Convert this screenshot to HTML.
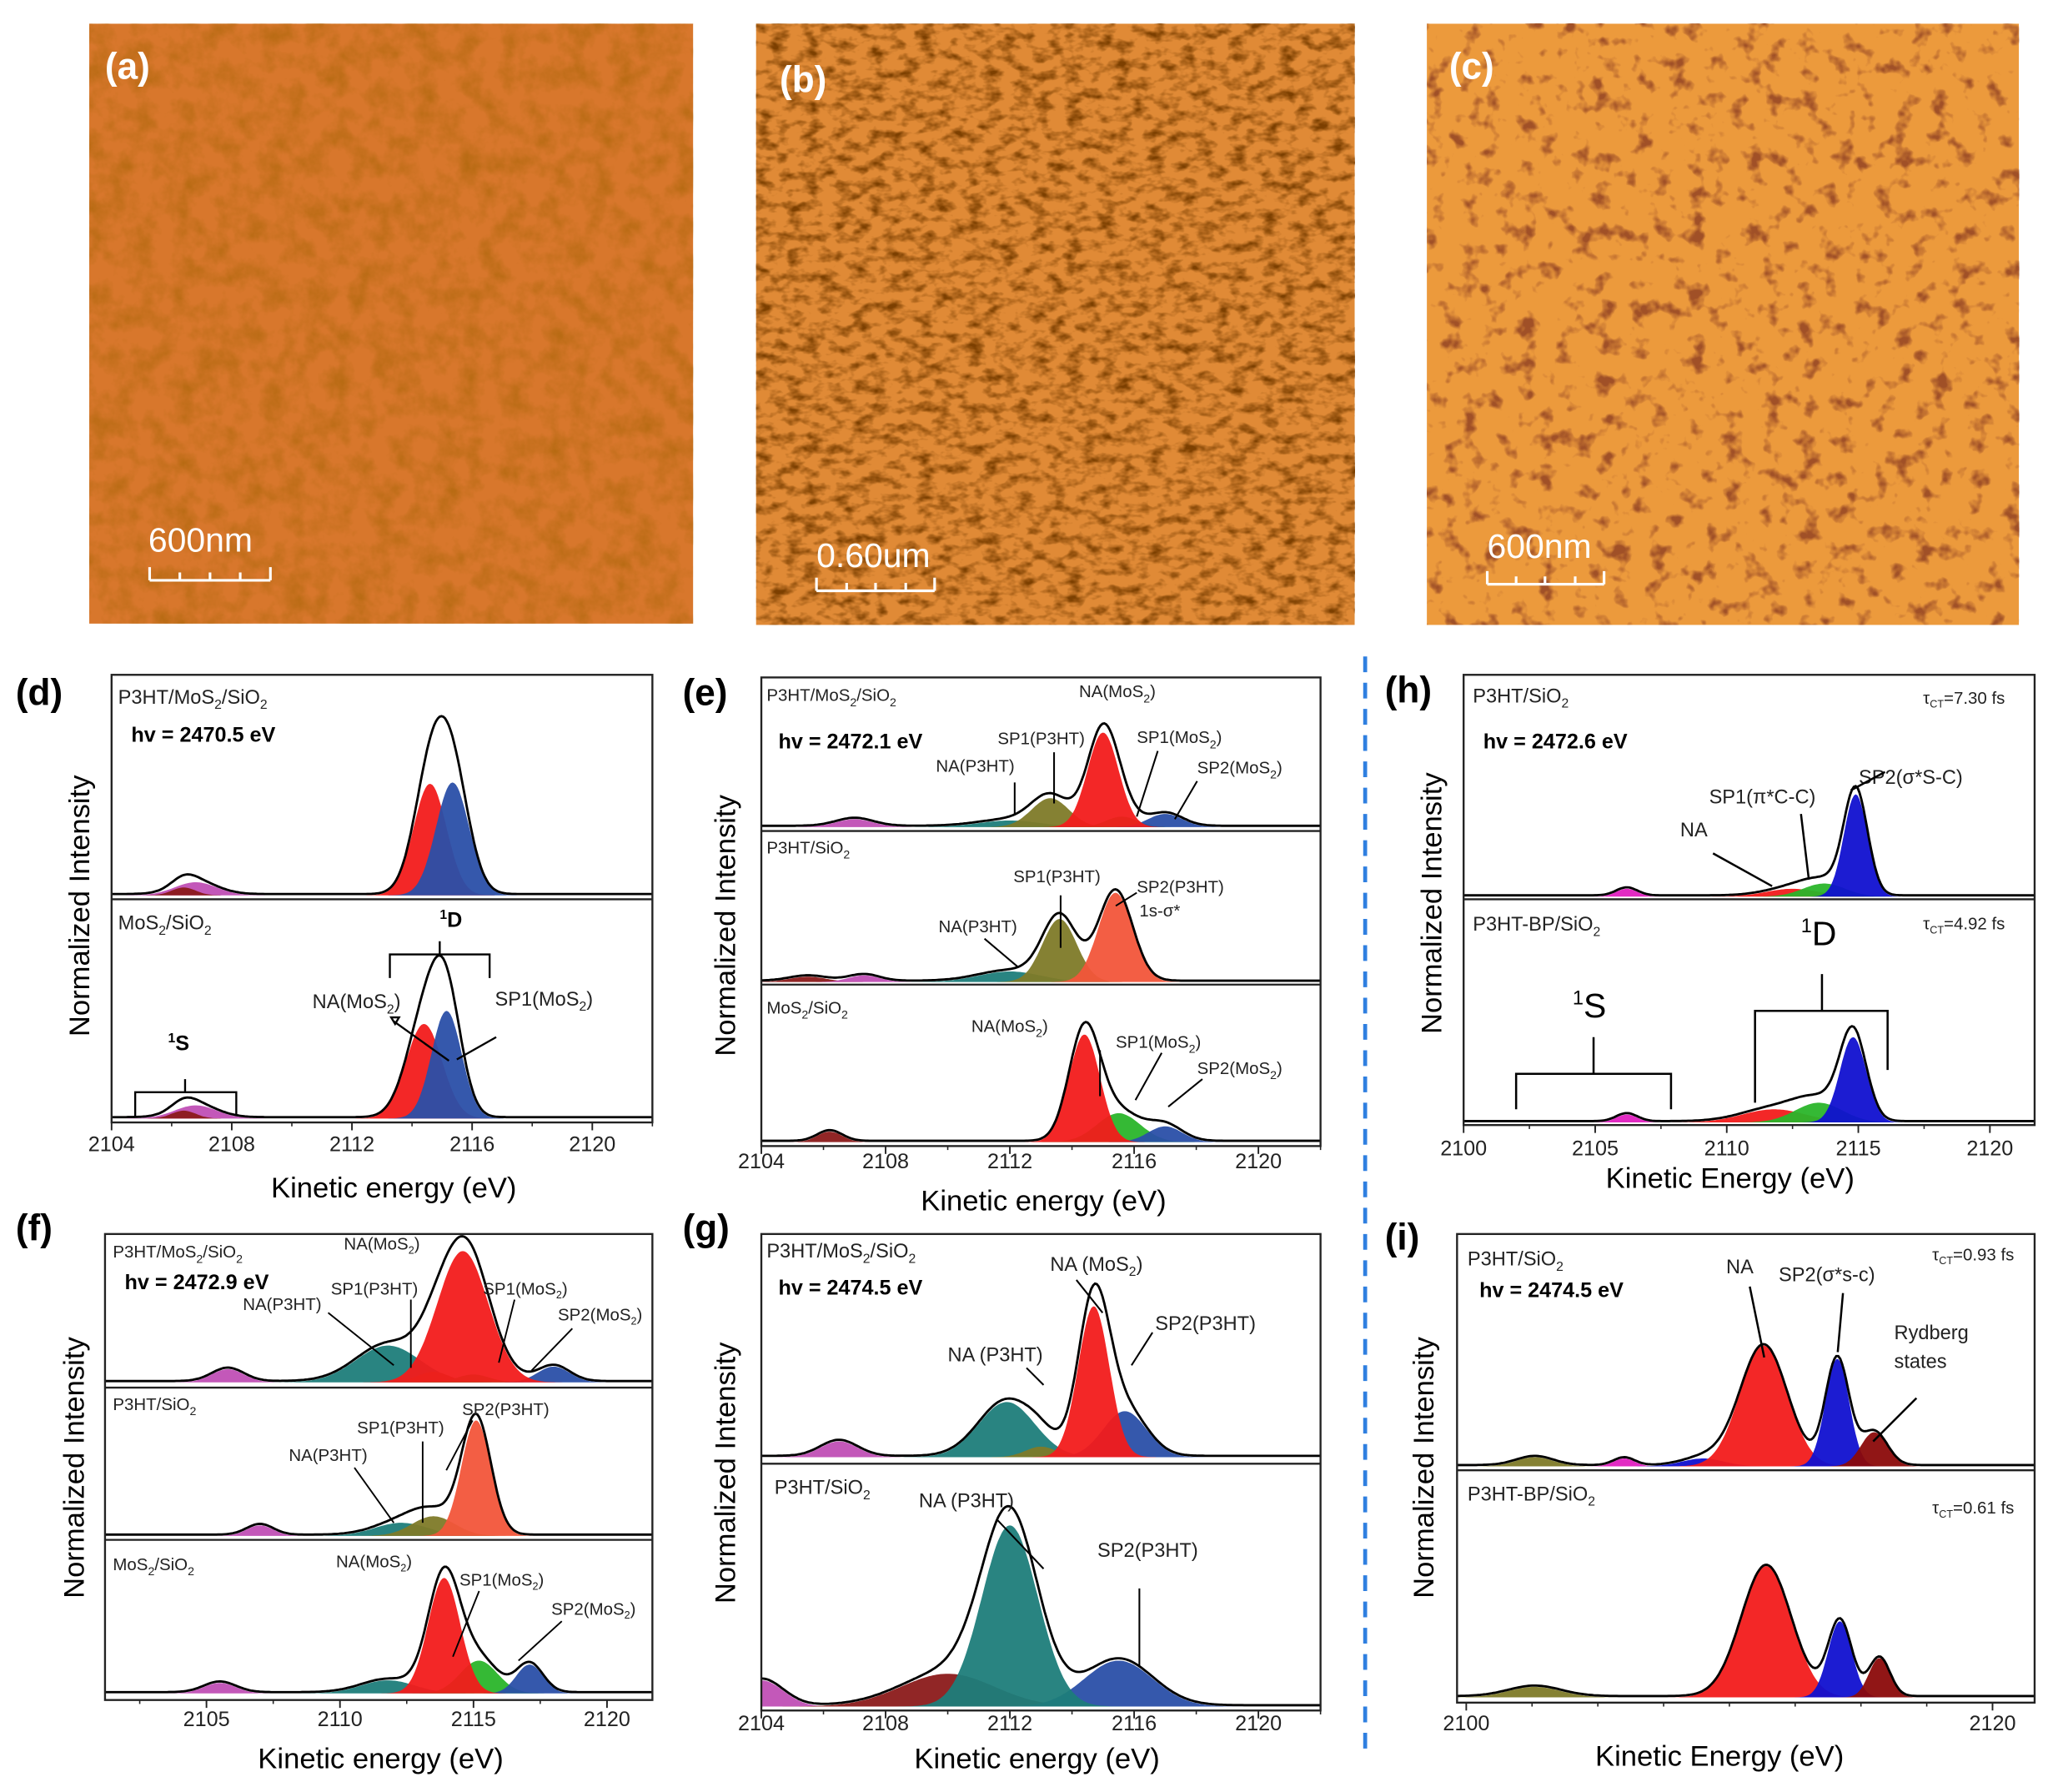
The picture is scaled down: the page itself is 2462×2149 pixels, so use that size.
<!DOCTYPE html>
<html><head><meta charset="utf-8">
<style>
html,body{margin:0;padding:0;background:#fff;}
svg{display:block;}
text{font-family:"Liberation Sans",Arial,sans-serif;}
.pl{font-size:28px;font-weight:bold;}
.tk{font-size:16px;fill:#222;}
.xl{font-size:22px;}
.yl{font-size:22px;}
.sm{font-size:13px;fill:#222;}
.md{font-size:15px;fill:#222;}
.hv{font-size:16px;font-weight:bold;}
</style></head>
<body>
<svg id="s" width="2462" height="2149" viewBox="0 0 1564 1365" xmlns="http://www.w3.org/2000/svg">
<defs>
<filter id="ta" x="0" y="0" width="100%" height="100%">
<feTurbulence type="fractalNoise" baseFrequency="0.06" numOctaves="4" seed="3"/>
<feColorMatrix type="matrix" values="0 0 0 0 0.35  0 0 0 0 0.12  0 0 0 0 0  1.1 0 0 0 -0.42"/>
</filter>
<filter id="tb" x="0" y="0" width="100%" height="100%">
<feTurbulence type="fractalNoise" baseFrequency="0.08 0.13" numOctaves="3" seed="8"/>
<feColorMatrix type="matrix" values="0 0 0 0 0.2  0 0 0 0 0.05  0 0 0 0 0  2.6 0 0 0 -1.15"/>
</filter>
<filter id="tc" x="0" y="0" width="100%" height="100%">
<feTurbulence type="fractalNoise" baseFrequency="0.07" numOctaves="3" seed="15"/>
<feColorMatrix type="matrix" values="0 0 0 0 0.35  0 0 0 0 0.08  0 0 0 0 0.02  4.5 0 0 0 -2.5"/>
</filter>
</defs>
<!-- AFM images -->
<rect x="68" y="18" width="460" height="457" fill="#d8772c"/>
<rect x="68" y="18" width="460" height="457" filter="url(#ta)"/>
<rect x="576" y="18" width="456" height="458" fill="#e08a36"/>
<rect x="576" y="18" width="456" height="458" filter="url(#tb)"/>
<rect x="1087" y="18" width="451" height="458" fill="#ec9a3c"/>
<rect x="1087" y="18" width="451" height="458" filter="url(#tc)"/>
<g font-family="Liberation Serif" font-weight="bold" font-size="28" fill="#fff">
<text x="80" y="60">(a)</text><text x="594" y="70">(b)</text><text x="1104" y="60">(c)</text></g>
<g font-family="Liberation Serif" font-size="26" fill="#fff">
<text x="113" y="420">600nm</text><text x="622" y="432">0.60um</text><text x="1133" y="425">600nm</text></g>
<g stroke="#fff" stroke-width="2" fill="none">
<path d="M114 442H206M114 432V442M137 436V442M160 436V442M183 436V442M206 432V442"/>
<path d="M622 450H712M622 440V450M645 444V450M667 444V450M690 444V450M712 440V450"/>
<path d="M1133 445H1222M1133 435V445M1155 439V445M1177 439V445M1200 439V445M1222 435V445"/>
</g>
<!-- dashed divider -->
<line x1="1040" y1="500" x2="1040" y2="1337" stroke="#2f7fe0" stroke-width="3" stroke-dasharray="12,8"/>
<g id="plots"></g>
<!-- panel letters -->
<g class="pl"><text x="12" y="537">(d)</text><text x="520" y="537">(e)</text><text x="1055" y="535">(h)</text>
<text x="12" y="945">(f)</text><text x="520" y="945">(g)</text><text x="1055" y="952">(i)</text></g>
<!-- axis labels -->
<g class="xl">
<text x="300" y="912" text-anchor="middle">Kinetic energy (eV)</text>
<text x="795" y="922" text-anchor="middle">Kinetic energy (eV)</text>
<text x="1318" y="905" text-anchor="middle">Kinetic Energy (eV)</text>
<text x="290" y="1347" text-anchor="middle">Kinetic energy (eV)</text>
<text x="790" y="1347" text-anchor="middle">Kinetic energy (eV)</text>
<text x="1310" y="1345" text-anchor="middle">Kinetic Energy (eV)</text>
</g>
<g class="yl">
<text transform="translate(68,690) rotate(-90)" text-anchor="middle">Normalized Intensity</text>
<text transform="translate(560,705) rotate(-90)" text-anchor="middle">Normalized Intensity</text>
<text transform="translate(1098,688) rotate(-90)" text-anchor="middle">Normalized Intensity</text>
<text transform="translate(64,1118) rotate(-90)" text-anchor="middle">Normalized Intensity</text>
<text transform="translate(560,1122) rotate(-90)" text-anchor="middle">Normalized Intensity</text>
<text transform="translate(1092,1118) rotate(-90)" text-anchor="middle">Normalized Intensity</text>
</g>
<!-- d annotations -->
<text class="md" x="90" y="536">P3HT/MoS<tspan font-size="10" dy="4">2</tspan><tspan dy="-4">/SiO</tspan><tspan font-size="10" dy="4">2</tspan></text>
<text class="hv" x="100" y="565">hv = 2470.5 eV</text>
<text class="md" x="90" y="708">MoS<tspan font-size="10" dy="4">2</tspan><tspan dy="-4">/SiO</tspan><tspan font-size="10" dy="4">2</tspan></text>
<text x="335" y="706" font-size="16" font-weight="bold"><tspan font-size="10" dy="-6">1</tspan><tspan dy="6">D</tspan></text>
<text x="128" y="800" font-size="16" font-weight="bold"><tspan font-size="10" dy="-6">1</tspan><tspan dy="6">S</tspan></text>
<text class="md" x="238" y="768">NA(MoS<tspan font-size="10" dy="4">2</tspan><tspan dy="-4">)</tspan></text>
<text class="md" x="377" y="766">SP1(MoS<tspan font-size="10" dy="4">2</tspan><tspan dy="-4">)</tspan></text>
<g fill="none" stroke="#000" stroke-width="1.5">
<path d="M297 745V727H335V717M335 727H373V745"/>
<path d="M103 850V832H141V822M141 832H180V850"/>
<path d="M342 808L300 778M298 775l6 0l-3 5z"/><path d="M348 807L378 790"/>
</g>
<!-- e annotations -->
<text class="sm" x="584" y="534">P3HT/MoS<tspan font-size="9" dy="4">2</tspan><tspan dy="-4">/SiO</tspan><tspan font-size="9" dy="4">2</tspan></text>
<text class="hv" x="593" y="570">hv = 2472.1 eV</text>
<text class="sm" x="822" y="531">NA(MoS<tspan font-size="9" dy="4">2</tspan><tspan dy="-4">)</tspan></text>
<text class="sm" x="760" y="567">SP1(P3HT)</text>
<text class="sm" x="713" y="588">NA(P3HT)</text>
<text class="sm" x="866" y="566">SP1(MoS<tspan font-size="9" dy="4">2</tspan><tspan dy="-4">)</tspan></text>
<text class="sm" x="912" y="589">SP2(MoS<tspan font-size="9" dy="4">2</tspan><tspan dy="-4">)</tspan></text>
<text class="sm" x="584" y="650">P3HT/SiO<tspan font-size="9" dy="4">2</tspan></text>
<text class="sm" x="772" y="672">SP1(P3HT)</text>
<text class="sm" x="715" y="710">NA(P3HT)</text>
<text class="sm" x="866" y="680">SP2(P3HT)</text>
<text class="sm" x="868" y="698" font-size="10">1s-σ*</text>
<text class="sm" x="584" y="772">MoS<tspan font-size="9" dy="4">2</tspan><tspan dy="-4">/SiO</tspan><tspan font-size="9" dy="4">2</tspan></text>
<text class="sm" x="740" y="786">NA(MoS<tspan font-size="9" dy="4">2</tspan><tspan dy="-4">)</tspan></text>
<text class="sm" x="850" y="798">SP1(MoS<tspan font-size="9" dy="4">2</tspan><tspan dy="-4">)</tspan></text>
<text class="sm" x="912" y="818">SP2(MoS<tspan font-size="9" dy="4">2</tspan><tspan dy="-4">)</tspan></text>
<g fill="none" stroke="#000" stroke-width="1.3">
<path d="M773 620V596"/><path d="M803 612V573"/><path d="M866 622L882 572"/><path d="M895 624L912 595"/>
<path d="M808 722V682"/><path d="M776 737L750 715"/><path d="M850 690L866 680"/>
<path d="M838 835V800"/><path d="M865 838L885 802"/><path d="M890 843L916 822"/>
</g>
<!-- h annotations -->
<text class="md" x="1122" y="535">P3HT/SiO<tspan font-size="10" dy="4">2</tspan></text>
<text class="hv" x="1130" y="570">hv = 2472.6 eV</text>
<text class="sm" x="1465" y="536">τ<tspan font-size="8" dy="3">CT</tspan><tspan dy="-3">=7.30 fs</tspan></text>
<text class="md" x="1280" y="637">NA</text>
<text class="md" x="1302" y="612">SP1(π*C-C)</text>
<text class="md" x="1416" y="597">SP2(σ*S-C)</text>
<text class="md" x="1122" y="709">P3HT-BP/SiO<tspan font-size="10" dy="4">2</tspan></text>
<text class="sm" x="1465" y="708">τ<tspan font-size="8" dy="3">CT</tspan><tspan dy="-3">=4.92 fs</tspan></text>
<text x="1372" y="720" font-size="26"><tspan font-size="15" dy="-10">1</tspan><tspan dy="10">D</tspan></text>
<text x="1198" y="775" font-size="26"><tspan font-size="15" dy="-10">1</tspan><tspan dy="10">S</tspan></text>
<g fill="none" stroke="#000" stroke-width="1.6">
<path d="M1155 845V818H1214V790M1214 818H1273V845"/>
<path d="M1337 840V770H1388V742M1388 770H1438V815"/>
<path d="M1350 675L1305 650"/><path d="M1378 670L1372 620"/><path d="M1410 602L1436 588"/>
</g>
<!-- f annotations -->
<text class="sm" x="86" y="958">P3HT/MoS<tspan font-size="9" dy="4">2</tspan><tspan dy="-4">/SiO</tspan><tspan font-size="9" dy="4">2</tspan></text>
<text class="hv" x="95" y="982">hv = 2472.9 eV</text>
<text class="sm" x="262" y="952" font-size="11">NA(MoS<tspan font-size="8" dy="3">2</tspan><tspan dy="-3">)</tspan></text>
<text class="sm" x="252" y="986" font-size="11">SP1(P3HT)</text>
<text class="sm" x="185" y="998" font-size="11">NA(P3HT)</text>
<text class="sm" x="368" y="986" font-size="11">SP1(MoS<tspan font-size="8" dy="3">2</tspan><tspan dy="-3">)</tspan></text>
<text class="sm" x="425" y="1006" font-size="11">SP2(MoS<tspan font-size="8" dy="3">2</tspan><tspan dy="-3">)</tspan></text>
<text class="sm" x="86" y="1074">P3HT/SiO<tspan font-size="9" dy="4">2</tspan></text>
<text class="sm" x="272" y="1092" font-size="11">SP1(P3HT)</text>
<text class="sm" x="220" y="1113" font-size="11">NA(P3HT)</text>
<text class="sm" x="352" y="1078" font-size="11">SP2(P3HT)</text>
<text class="sm" x="86" y="1196">MoS<tspan font-size="9" dy="4">2</tspan><tspan dy="-4">/SiO</tspan><tspan font-size="9" dy="4">2</tspan></text>
<text class="sm" x="256" y="1194" font-size="11">NA(MoS<tspan font-size="8" dy="3">2</tspan><tspan dy="-3">)</tspan></text>
<text class="sm" x="350" y="1208" font-size="11">SP1(MoS<tspan font-size="8" dy="3">2</tspan><tspan dy="-3">)</tspan></text>
<text class="sm" x="420" y="1230" font-size="11">SP2(MoS<tspan font-size="8" dy="3">2</tspan><tspan dy="-3">)</tspan></text>
<g fill="none" stroke="#000" stroke-width="1.2">
<path d="M313 1042V990"/><path d="M300 1040L250 1000"/><path d="M380 1038L392 990"/><path d="M405 1044L436 1012"/>
<path d="M322 1160V1098"/><path d="M300 1160L270 1118"/><path d="M340 1120L360 1082"/>
<path d="M345 1262L365 1212"/><path d="M395 1265L428 1235"/>
</g>
<!-- g annotations -->
<text class="md" x="584" y="958">P3HT/MoS<tspan font-size="10" dy="4">2</tspan><tspan dy="-4">/SiO</tspan><tspan font-size="10" dy="4">2</tspan></text>
<text class="hv" x="593" y="986">hv = 2474.5 eV</text>
<text class="md" x="800" y="968">NA (MoS<tspan font-size="10" dy="4">2</tspan><tspan dy="-4">)</tspan></text>
<text class="md" x="880" y="1013">SP2(P3HT)</text>
<text class="md" x="722" y="1037">NA (P3HT)</text>
<text class="md" x="590" y="1138">P3HT/SiO<tspan font-size="10" dy="4">2</tspan></text>
<text class="md" x="700" y="1148">NA (P3HT)</text>
<text class="md" x="836" y="1186">SP2(P3HT)</text>
<g fill="none" stroke="#000" stroke-width="1.3">
<path d="M840 1000L820 975"/><path d="M862 1040L878 1015"/><path d="M795 1055L782 1042"/>
<path d="M795 1195L760 1158"/><path d="M868 1270V1210"/>
</g>
<!-- i annotations -->
<text class="md" x="1118" y="964">P3HT/SiO<tspan font-size="10" dy="4">2</tspan></text>
<text class="hv" x="1127" y="988">hv = 2474.5 eV</text>
<text class="sm" x="1472" y="960">τ<tspan font-size="8" dy="3">CT</tspan><tspan dy="-3">=0.93 fs</tspan></text>
<text class="md" x="1315" y="970">NA</text>
<text class="md" x="1355" y="976">SP2(σ*s-c)</text>
<text class="md" x="1443" y="1020">Rydberg</text>
<text class="md" x="1443" y="1042">states</text>
<text class="md" x="1118" y="1143">P3HT-BP/SiO<tspan font-size="10" dy="4">2</tspan></text>
<text class="sm" x="1472" y="1153">τ<tspan font-size="8" dy="3">CT</tspan><tspan dy="-3">=0.61 fs</tspan></text>
<g fill="none" stroke="#000" stroke-width="1.6">
<path d="M1344 1034L1333 980"/><path d="M1400 1030L1404 985"/><path d="M1427 1098L1460 1065"/>
</g>
</svg>
<script>
var NS="http://www.w3.org/2000/svg",G=document.getElementById("plots");
function el(t,a){var e=document.createElementNS(NS,t);for(var k in a)e.setAttribute(k,a[k]);G.appendChild(e);return e;}
function tx(x,y,s,c,a){var e=el("text",{x:x,y:y,"class":c,"text-anchor":a||"middle"});e.textContent=s;}
var C={r:"#f21b1b",b:"#2a4fa8",B:"#1010d0",p:"#c04fb5",P:"#e020c0",d:"#8b1a1a",o:"#7e7a28",g:"#2ab52a",t:"#1e7d7a",O:"#f2553a",D:"#8b0a0a"};
function panel(P){
  var sx=function(e){return P.x0+(e-P.e0)*(P.x1-P.x0)/(P.e1-P.e0);};
  P.subs.forEach(function(S){
    var tot=[],N=300;
    for(var i=0;i<=N;i++)tot[i]=0;
    S.pk.forEach(function(q){
      var d="";
      for(var i=0;i<=N;i++){var e=P.e0+(P.e1-P.e0)*i/N,v=q[2]*Math.exp(-0.5*Math.pow((e-q[0])/q[1],2));tot[i]+=v;
        d+=(i?"L":"M")+sx(e).toFixed(1)+" "+(S.base-v).toFixed(1);}
      d+="L"+P.x1+" "+S.base+"L"+P.x0+" "+S.base+"Z";
      el("path",{d:d,fill:C[q[3]],"fill-opacity":0.95});
    });
    var d="";
    for(var i=0;i<=N;i++){var e=P.e0+(P.e1-P.e0)*i/N;d+=(i?"L":"M")+sx(e).toFixed(1)+" "+(S.base-tot[i]*(S.env||1.02)-1).toFixed(1);}
    el("path",{d:d,fill:"none",stroke:"#000","stroke-width":1.8});
  });
  el("rect",{x:P.x0,y:P.y0,width:P.x1-P.x0,height:P.y1-P.y0,fill:"none",stroke:"#222","stroke-width":1.5});
  P.div.forEach(function(y){el("line",{x1:P.x0,x2:P.x1,y1:y,y2:y,stroke:"#222","stroke-width":1.5});});
  P.ticks.forEach(function(t){var x=sx(t);el("line",{x1:x,x2:x,y1:P.y1,y2:P.y1+6,stroke:"#222","stroke-width":1.2});tx(x,P.ly,String(t),"tk");});
  (P.minor||[]).forEach(function(t){var x=sx(t);el("line",{x1:x,x2:x,y1:P.y1,y2:P.y1+3,stroke:"#222","stroke-width":1});});
}
function rng(a,b,s){var r=[];for(var v=a;v<=b+1e-9;v+=s)r.push(v);return r;}
// d
panel({x0:85,x1:497,e0:2104,e1:2122,y0:514,y1:855,div:[685],ly:877,ticks:[2104,2108,2112,2116,2120],minor:rng(2106,2122,4),
 subs:[{base:682,env:1.0,pk:[[2106.8,0.7,10,"p"],[2106.4,0.4,6,"d"],[2114.6,0.55,85,"r"],[2115.35,0.55,86,"b"]]},
       {base:852,env:1.0,pk:[[2106.8,0.7,10,"p"],[2106.4,0.4,6,"d"],[2114.4,0.6,72,"r"],[2115.15,0.5,82,"b"]]}]});
// e
panel({x0:580,x1:1006,e0:2104,e1:2122,y0:516,y1:873,div:[633,750],ly:890,ticks:[2104,2108,2112,2116,2120],minor:rng(2106,2122,4),
 subs:[{base:630,pk:[[2107,0.6,6,"p"],[2112,1,5,"t"],[2113.3,0.6,22,"o"],[2115.6,0.5,8,"g"],[2117,0.55,10,"b"],[2115,0.5,72,"r"]]},
       {base:748,pk:[[2105.5,0.6,4,"d"],[2107.3,0.5,5,"p"],[2112,1,8,"t"],[2113.6,0.55,48,"o"],[2115.4,0.55,68,"O"]]},
       {base:870,pk:[[2106.2,0.4,8,"d"],[2115.5,0.7,22,"g"],[2117,0.55,12,"b"],[2114.4,0.5,82,"r"]]}]});
// h
panel({x0:1115,x1:1550,e0:2100,e1:2121.7,y0:514,y1:857,div:[685],ly:880,ticks:[2100,2105,2110,2115,2120],minor:rng(2102.5,2120,2.5),
 subs:[{base:683,pk:[[2106.2,0.4,6,"P"],[2112.5,1,6,"r"],[2113.7,0.8,10,"g"],[2114.9,0.45,78,"B"]]},
       {base:855,pk:[[2106.2,0.4,6,"P"],[2111.8,1.2,10,"r"],[2113.5,0.9,15,"g"],[2114.8,0.5,65,"B"]]}]});
// f
panel({x0:80,x1:497,e0:2101.2,e1:2121.7,y0:940,y1:1295,div:[1057,1173],ly:1315,ticks:[2105,2110,2115,2120],minor:rng(2102.5,2120,2.5),
 subs:[{base:1053,pk:[[2105.8,0.6,10,"p"],[2111.8,1.2,28,"t"],[2113.5,0.6,8,"o"],[2115,0.6,6,"g"],[2118,0.6,12,"b"],[2114.6,0.95,100,"r"]]},
       {base:1170,pk:[[2107,0.5,8,"p"],[2112.3,1,10,"t"],[2113.5,0.8,15,"o"],[2115.1,0.55,88,"O"]]},
       {base:1290,pk:[[2105.5,0.6,8,"p"],[2111.8,1,10,"t"],[2115.2,0.7,25,"g"],[2117.1,0.5,22,"b"],[2113.9,0.6,88,"r"]]}]});
// g
panel({x0:580,x1:1006,e0:2104,e1:2122,y0:940,y1:1303,div:[1115],ly:1318,ticks:[2104,2108,2112,2116,2120],minor:rng(2106,2122,4),
 subs:[{base:1110,pk:[[2106.5,0.6,12,"p"],[2111.9,0.9,42,"t"],[2113,0.5,8,"o"],[2115.7,0.7,35,"b"],[2114.7,0.5,115,"r"]]},
       {base:1300,pk:[[2104,0.7,20,"p"],[2110,1.5,25,"d"],[2115.5,1.1,35,"b"],[2112,0.9,138,"t"]]}]});
// i
panel({x0:1110,x1:1550,e0:2099.65,e1:2121.6,y0:940,y1:1297,div:[1120],ly:1318,ticks:[2100,2120],minor:rng(2102.5,2120,2.5),
 subs:[{base:1117,env:1.0,pk:[[2102.6,0.7,7,"o"],[2106,0.4,6,"P"],[2109,0.8,6,"B"],[2111.3,0.9,92,"r"],[2114.1,0.45,82,"B"],[2115.5,0.5,26,"D"]]},
       {base:1293,env:1.0,pk:[[2102.6,1,8,"o"],[2111.4,0.95,100,"r"],[2114.2,0.45,58,"B"],[2115.7,0.4,30,"D"]]}]});
</script>
</body></html>
